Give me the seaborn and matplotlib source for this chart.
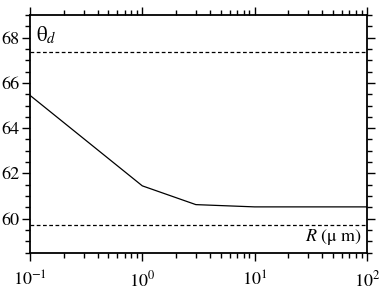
import matplotlib
matplotlib.use("Agg")
import matplotlib.pyplot as plt
import matplotlib.ticker as mticker
import seaborn as sns
import pandas as pd
import numpy as np

R_um = [0.1, 1.0, 3.0, 10.0, 100.0]
theta_d = [65.45, 61.45, 60.62, 60.52, 60.52]
upper_ref = 67.35
lower_ref = 59.72
xtick_vals = [0.1, 1, 10, 100]
ytick_vals = [60, 62, 64, 66, 68]

sns.set_style("ticks", {"axes.edgecolor": "black", "text.color": "black",
                        "xtick.color": "black", "ytick.color": "black"})
plt.rcParams['font.family'] = ['STIXGeneral', 'DejaVu Serif']
plt.rcParams['mathtext.fontset'] = 'stix'

fig = plt.figure(figsize=(3.87, 2.92), dpi=100)
ax = fig.add_axes([0.0775, 0.135, 0.8705, 0.8135])

df = pd.DataFrame({"R": R_um, "theta": theta_d})
sns.lineplot(data=df, x="R", y="theta", ax=ax, color="black", linewidth=0.9)
ax.axhline(upper_ref, color="black", linestyle=(0, (3, 2)), linewidth=0.9)
ax.axhline(lower_ref, color="black", linestyle=(0, (3, 2)), linewidth=0.9)

ax.set_xscale("log")
ax.set_xlim(0.1, 100)
ax.set_ylim(58.5, 69.0)
ax.set_xticks(xtick_vals)
ax.xaxis.set_major_formatter(mticker.LogFormatterMathtext())
ax.xaxis.set_minor_locator(mticker.LogLocator(base=10, subs=np.arange(2, 10), numticks=20))
ax.xaxis.set_minor_formatter(mticker.NullFormatter())
ax.set_yticks(ytick_vals)
ax.yaxis.set_minor_locator(mticker.MultipleLocator(0.5))

ax.set_xlabel("")
ax.set_ylabel("")
for s in ax.spines.values():
    s.set_linewidth(1.3)
    s.set_visible(True)
    s.set_color("black")

ax.tick_params(which="both", direction="out", top=True, right=True, width=1.0,
               labelsize=13, colors="black")
ax.tick_params(which="major", length=6)
ax.tick_params(which="minor", length=3.5)
ax.tick_params(axis="x", which="major", pad=7)
ax.tick_params(axis="y", which="major", pad=1.5)

ax.text(0.018, 0.96, r'$\mathrm{\theta}_{d}$', transform=ax.transAxes,
        ha="left", va="top", fontsize=15, color="black")
ax.text(0.985, 0.025, r'$R$ (μ m)', transform=ax.transAxes,
        ha="right", va="bottom", fontsize=13, color="black")

fig.savefig("out.png", dpi=100)
